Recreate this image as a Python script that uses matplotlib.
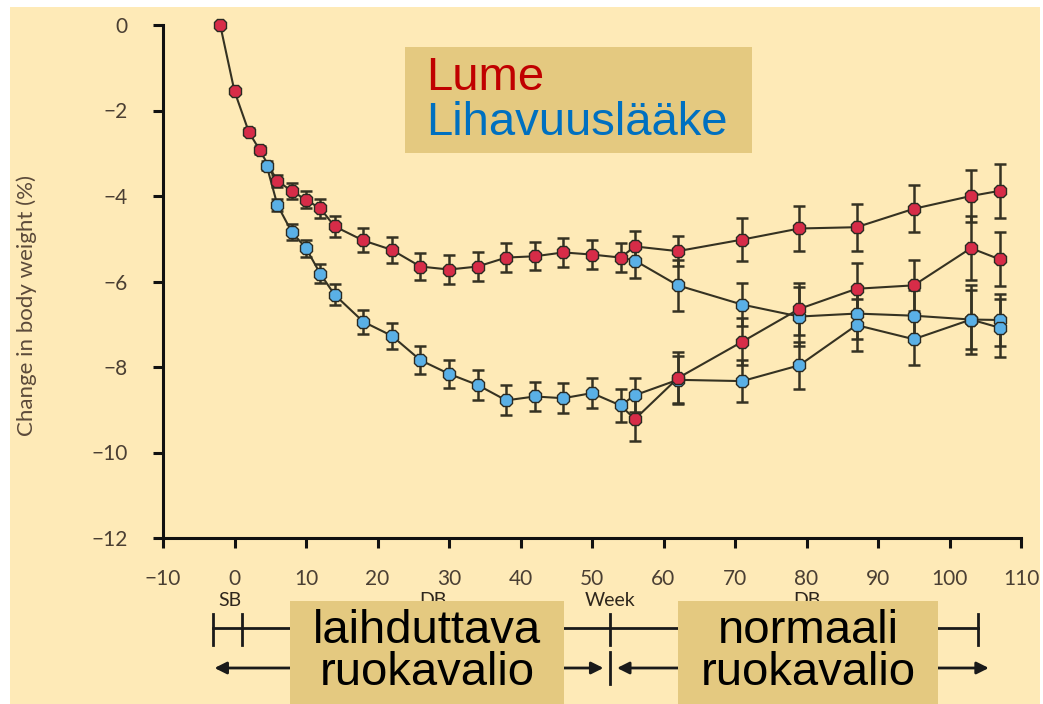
import numpy as np
import matplotlib.pyplot as plt
from matplotlib.patches import Rectangle
from matplotlib.transforms import blended_transform_factory

W, H = 1043, 704

# first year (weeks) - lume (placebo) and drug
weeks_lume1 = [-2, 0, 2, 3.5, 6, 8, 10, 12, 14, 18, 22, 26, 30, 34, 38, 42, 46, 50, 54]
lume1 = [0, -1.55, -2.5, -2.92, -3.65, -3.88, -4.09, -4.29, -4.71, -5.04, -5.26,
         -5.65, -5.72, -5.65, -5.44, -5.41, -5.32, -5.37, -5.44]
lume1_err = [0, 0.05, 0.08, 0.1, 0.15, 0.18, 0.2, 0.22, 0.25, 0.28, 0.3,
             0.32, 0.33, 0.33, 0.33, 0.33, 0.33, 0.33, 0.33]

weeks_drug1 = [4.5, 6, 8, 10, 12, 14, 18, 22, 26, 30, 34, 38, 42, 46, 50, 54]
drug1 = [-3.29, -4.21, -4.84, -5.22, -5.82, -6.31, -6.94, -7.27, -7.84, -8.16,
         -8.42, -8.78, -8.69, -8.73, -8.61, -8.9]
drug1_err = [0.1, 0.15, 0.18, 0.2, 0.22, 0.25, 0.28, 0.3, 0.32, 0.33,
             0.35, 0.35, 0.35, 0.35, 0.35, 0.38]

# second year, re-randomised groups
weeks2 = [56, 62, 71, 79, 87, 95, 103, 107]
lume_lume = [-5.18, -5.29, -5.02, -4.76, -4.73, -4.3, -4.0, -3.88]
lume_lume_err = [0.35, 0.35, 0.5, 0.53, 0.55, 0.55, 0.6, 0.63]
lume_drug = [-5.51, -6.09, -6.54, -6.82, -6.75, -6.8, -6.89, -6.9]
lume_drug_err = [0.4, 0.6, 0.5, 0.7, 0.6, 0.6, 0.7, 0.6]
drug_lume = [-9.22, -8.26, -7.41, -6.64, -6.17, -6.09, -5.22, -5.48]
drug_lume_err = [0.5, 0.6, 0.55, 0.6, 0.6, 0.6, 0.75, 0.63]
drug_drug = [-8.66, -8.3, -8.33, -7.96, -7.02, -7.35, -6.89, -7.08]
drug_drug_err = [0.4, 0.55, 0.5, 0.55, 0.6, 0.6, 0.8, 0.68]

BG = '#feeab7'
BOX = '#e4c980'
RED = '#d72c48'
BLUE = '#5ab0e6'
LINE = '#353222'
EDGE = '#2a2a22'

fig = plt.figure(figsize=(W / 100, H / 100), dpi=100)
fig.patch.set_facecolor('white')
fig.add_artist(Rectangle((10 / W, 0), 1030 / W, 697 / H, transform=fig.transFigure,
                         facecolor=BG, edgecolor='none', zorder=-10))

ax = fig.add_axes([163 / W, 1 - 538 / H, (1021 - 163) / W, (538 - 25) / H])
ax.set_facecolor('none')


def series(x, y, err, color, start=None):
    # start = (x, y) of the point the branch continues from
    if start is not None:
        ax.plot([start[0], x[0]], [start[1], y[0]], color=LINE, lw=1.5, zorder=2, clip_on=False)
    ax.errorbar(x, y, yerr=err, fmt='none', ecolor=LINE, elinewidth=1.8,
                capsize=4.5, capthick=1.8, zorder=2, clip_on=False)
    ax.plot(x, y, color=LINE, lw=1.5, zorder=3, clip_on=False)
    ax.plot(x, y, ls='none', marker='8', ms=10, mfc=color, mec=EDGE, mew=1.0,
            zorder=4, clip_on=False)


series(weeks_lume1, lume1, lume1_err, RED)
series(weeks_drug1, drug1, drug1_err, BLUE, start=(weeks_lume1[4], lume1[4]))
end_l = (weeks_lume1[-1], lume1[-1])
end_d = (weeks_drug1[-1], drug1[-1])
series(weeks2, lume_drug, lume_drug_err, BLUE, start=end_l)
series(weeks2, drug_drug, drug_drug_err, BLUE, start=end_d)
series(weeks2, lume_lume, lume_lume_err, RED, start=end_l)
series(weeks2, drug_lume, drug_lume_err, RED, start=end_d)

ax.set_xlim(-10, 110)
ax.set_ylim(-12, 0)
ax.set_xticks(np.arange(-10, 111, 10))
ax.set_yticks(np.arange(-12, 1, 2))
for s in ['top', 'right']:
    ax.spines[s].set_visible(False)
for s in ['left', 'bottom']:
    ax.spines[s].set_linewidth(2.2)
    ax.spines[s].set_color('#111111')
ax.tick_params(direction='out', length=7, width=2.2, color='#111111',
               labelsize=15, labelcolor='#4a3f33')
ax.tick_params(axis='x', pad=15.5)
ax.tick_params(axis='y', pad=18.5)
for lab in ax.get_xticklabels() + ax.get_yticklabels():
    lab.set_family('Lato')

fig.text(27 / W, 1 - 305 / H, 'Change in body weight (%)', rotation=90,
         ha='center', va='center', fontsize=16, color='#5b4a3a', family='Lato')

# study period timeline under the axis
tr = blended_transform_factory(ax.transData, fig.transFigure)
def fy(py):
    return 1 - py / H

ax.plot([-3, 104], [fy(628)] * 2, transform=tr, clip_on=False, color='#1a1a1a', lw=2)
for xv in [-3, 1, 52.5, 104]:
    ax.plot([xv, xv], [fy(614), fy(645)], transform=tr, clip_on=False, color='#1a1a1a', lw=2)
ax.plot([52.5, 52.5], [fy(652), fy(684)], transform=tr, clip_on=False, color='#1a1a1a', lw=2)
arrow = dict(arrowstyle='<|-|>', color='#1a1a1a', lw=2, mutation_scale=18, shrinkA=0, shrinkB=0)
ax.annotate('', xy=(-2.8, fy(668)), xytext=(51.6, fy(668)), xycoords=tr, textcoords=tr,
            arrowprops=arrow, annotation_clip=False)
ax.annotate('', xy=(53.5, fy(668)), xytext=(105.5, fy(668)), xycoords=tr, textcoords=tr,
            arrowprops=arrow, annotation_clip=False)

for xv, txt in [(-0.6, 'SB'), (27.8, 'DB'), (52.5, 'Week'), (80, 'DB')]:
    ax.text(xv, fy(601), txt, transform=tr, ha='center', va='center', fontsize=14,
            color='#2e261c', family='Lato', clip_on=False)

# boxes with Finnish labels
fig.add_artist(Rectangle((405 / W, 1 - 153 / H), 347 / W, 106 / H, transform=fig.transFigure,
                         facecolor=BOX, edgecolor='none', zorder=5))
fig.text(426 / W, 1 - 90 / H, 'Lume', color='#c00000', fontsize=34,
         family='Liberation Sans', va='baseline', zorder=6)
fig.text(426 / W, 1 - 135 / H, 'Lihavuuslääke', color='#0070c0', fontsize=34,
         family='Liberation Sans', va='baseline', zorder=6)

for x0, x1, line1 in [(290, 564, 'laihduttava'), (678, 938, 'normaali')]:
    fig.add_artist(Rectangle((x0 / W, 0), (x1 - x0) / W, 103 / H, transform=fig.transFigure,
                             facecolor=BOX, edgecolor='none', zorder=5))
    cx = (x0 + x1) / 2 / W
    fig.text(cx, 1 - 643 / H, line1, ha='center', va='baseline', fontsize=34,
             family='Liberation Sans', color='black', zorder=6)
    fig.text(cx, 1 - 685 / H, 'ruokavalio', ha='center', va='baseline', fontsize=34,
             family='Liberation Sans', color='black', zorder=6)

fig.savefig('out.png', dpi=100, facecolor=fig.get_facecolor())
